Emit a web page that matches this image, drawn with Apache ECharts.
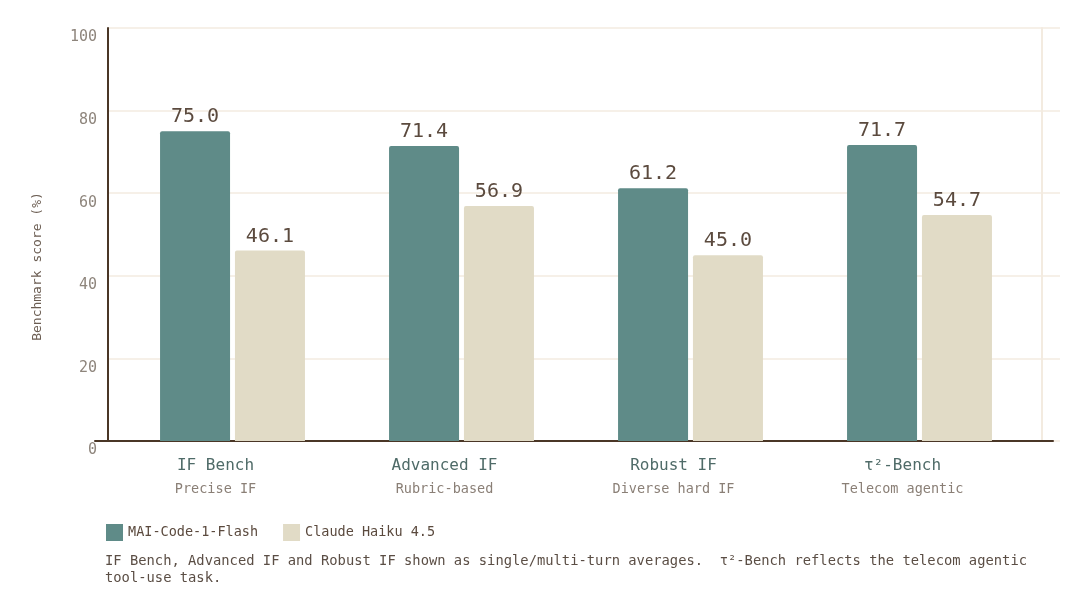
<!DOCTYPE html>
<html lang="en">
<head>
    <meta charset="UTF-8">
    <title>Benchmark scores</title>
    <script src="https://cdn.jsdelivr.net/npm/echarts@6/dist/echarts.min.js"></script>
    <style>
        html, body {
            margin: 0;
            padding: 0;
            background: #ffffff;
        }
        #chart {
            width: 1080px;
            height: 612px;
        }
    </style>
</head>
<body>
    <div id="chart"></div>
    <script>
        // data
        var categories = ['IF Bench', 'Advanced IF', 'Robust IF', 'τ²-Bench'];
        var subtitles = ['Precise IF', 'Rubric-based', 'Diverse hard IF', 'Telecom agentic'];
        var seriesNames = ['MAI-Code-1-Flash', 'Claude Haiku 4.5'];
        var maiScores = [75.0, 71.4, 61.2, 71.7];
        var haikuScores = [46.1, 56.9, 45.0, 54.7];
        var yMin = 0, yMax = 100, yStep = 20;
        var footnote = 'IF Bench, Advanced IF and Robust IF shown as single/multi-turn averages.  τ²-Bench reflects the telecom agentic\ntool-use task.';

        var FONT = "'DejaVu Sans Mono', 'Liberation Mono', monospace";
        var TEAL = '#5f8b88';
        var SAND = '#e1dbc6';
        var DARK = '#4a3626';
        var GRID_LINE = '#f3ebe0';

        var chart = echarts.init(document.getElementById('chart'));

        var valueLabel = {
            show: true,
            position: 'top',
            distance: 4,
            fontFamily: FONT,
            fontSize: 20,
            color: '#5b4a3e',
            formatter: function (p) { return p.value.toFixed(1); }
        };

        chart.setOption({
            animation: false,
            textStyle: { fontFamily: FONT },
            title: {
                text: footnote,
                left: 105,
                top: 553,
                padding: 0,
                textStyle: {
                    fontFamily: FONT,
                    fontSize: 13.8,
                    fontWeight: 'normal',
                    lineHeight: 17,
                    color: '#5b4e45'
                }
            },
            legend: {
                data: seriesNames,
                left: 106,
                top: 524,
                padding: 0,
                icon: 'rect',
                itemWidth: 17,
                itemHeight: 17,
                itemGap: 25,
                textStyle: { fontFamily: FONT, fontSize: 13.5, color: '#5b4a3e' }
            },
            grid: [
                // bars
                { left: 118, right: 46, top: 28, bottom: 171 },
                // horizontal grid lines, full width
                { left: 108, right: 20, top: 28, bottom: 171 },
                // baseline
                { left: 95, right: 27, top: 28, bottom: 171 }
            ],
            xAxis: [
                {
                    type: 'category',
                    gridIndex: 0,
                    data: categories,
                    axisLine: { show: false },
                    axisTick: { show: false },
                    axisLabel: {
                        margin: 14,
                        padding: [0, 34, 0, 0],
                        formatter: function (v, i) {
                            return '{main|' + v + '}\n{sub|' + subtitles[i] + '}';
                        },
                        rich: {
                            main: { fontFamily: FONT, fontSize: 16, lineHeight: 22, color: '#4f6b68' },
                            sub: { fontFamily: FONT, fontSize: 13.5, lineHeight: 24, color: '#8a7f76' }
                        }
                    }
                },
                { type: 'value', gridIndex: 1, show: false },
                {
                    type: 'value',
                    gridIndex: 2,
                    position: 'bottom',
                    axisLine: { show: true, onZero: false, lineStyle: { color: DARK, width: 2 } },
                    axisTick: { show: false },
                    axisLabel: { show: false },
                    splitLine: { show: false }
                }
            ],
            yAxis: [
                {
                    type: 'value',
                    gridIndex: 0,
                    min: yMin,
                    max: yMax,
                    interval: yStep,
                    offset: 10,
                    name: 'Benchmark score (%)',
                    nameLocation: 'middle',
                    nameGap: 64,
                    nameTextStyle: {
                        fontFamily: FONT,
                        fontSize: 13,
                        color: '#6b5d52',
                        padding: [0, 64, 0, 0]
                    },
                    axisLine: { show: true, lineStyle: { color: DARK, width: 2 } },
                    axisTick: { show: false },
                    axisLabel: {
                        margin: 11,
                        verticalAlign: 'top',
                        padding: [2, 0, 0, 0],
                        fontFamily: FONT,
                        fontSize: 15,
                        color: '#8e857c'
                    },
                    splitLine: { show: false }
                },
                {
                    type: 'value',
                    gridIndex: 0,
                    position: 'right',
                    offset: 8,
                    min: yMin,
                    max: yMax,
                    axisLine: { show: true, lineStyle: { color: GRID_LINE, width: 2 } },
                    axisTick: { show: false },
                    axisLabel: { show: false },
                    splitLine: { show: false }
                },
                {
                    type: 'value',
                    gridIndex: 1,
                    min: yMin,
                    max: yMax,
                    interval: yStep,
                    axisLine: { show: false },
                    axisTick: { show: false },
                    axisLabel: { show: false },
                    splitLine: { show: true, lineStyle: { color: GRID_LINE, width: 1.5 } }
                },
                { type: 'value', gridIndex: 2, show: false }
            ],
            series: [
                {
                    name: seriesNames[0],
                    type: 'bar',
                    xAxisIndex: 0,
                    yAxisIndex: 0,
                    data: maiScores,
                    barWidth: 70,
                    barGap: '7%',
                    itemStyle: { color: TEAL, borderRadius: [2, 2, 0, 0] },
                    label: valueLabel
                },
                {
                    name: seriesNames[1],
                    type: 'bar',
                    xAxisIndex: 0,
                    yAxisIndex: 0,
                    data: haikuScores,
                    barWidth: 70,
                    barGap: '7%',
                    itemStyle: { color: SAND, borderRadius: [2, 2, 0, 0] },
                    label: valueLabel
                }
            ]
        });
    </script>
</body>
</html>
